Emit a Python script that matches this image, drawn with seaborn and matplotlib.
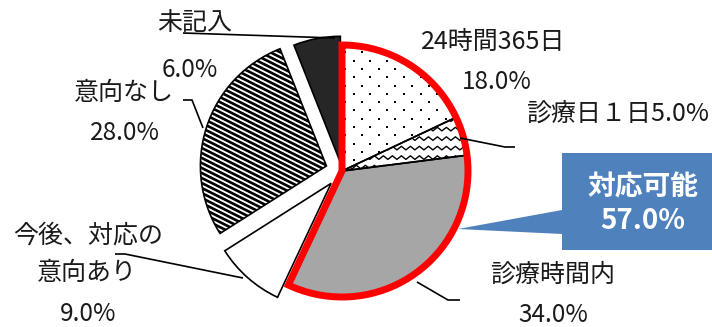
import numpy as np
import matplotlib
matplotlib.use("Agg")
import matplotlib.pyplot as plt
from matplotlib.patches import Wedge, Polygon
from matplotlib.collections import LineCollection
import seaborn as sns

# ---- data -------------------------------------------------------------
categories = ["24時間365日", "診療日１日", "診療時間内",
              "今後、対応の\n意向あり", "意向なし", "未記入"]
shares = [18.0, 5.0, 34.0, 9.0, 28.0, 6.0]
available = ["24時間365日", "診療日１日", "診療時間内"]
available_label = "対応可能"

# ---- style ------------------------------------------------------------
sns.set_theme(style="white")
plt.rcParams["font.family"] = ["Noto Sans CJK JP", "DejaVu Sans"]
TEXT = "#1a1a1a"

W, H, DPI = 712, 327, 100
CX, CY, R = 342, 171, 126          # pie centre / radius in pixels

fig = plt.figure(figsize=(W / DPI, H / DPI), dpi=DPI)
ax = fig.add_axes([0, 0, 1, 1])


def P(x, y):
    """pixel position -> data position (pie radius = 1)"""
    return ((x - CX) / R, (CY - y) / R)


faces = ["white", "white", "#a6a6a6", "white", "white", "#262626"]
explode = [0, 0, 0, 0.13, 0.13, 0.07]
wedges, _ = ax.pie(shares, startangle=90, counterclock=False, colors=faces,
                   explode=explode, radius=1,
                   wedgeprops=dict(linewidth=0, zorder=1))

ax.set_xlim(-CX / R, (W - CX) / R)
ax.set_ylim(-(H - CY) / R, CY / R)
ax.set_aspect("equal")
ax.axis("off")


# ---- fill patterns clipped to their wedges ----------------------------
def dot_pattern(w):
    cx, cy = w.center
    sx, sy = 16.7 / R, 8.3 / R
    xs, ys = [], []
    for i, y in enumerate(np.arange(cy - 1.1, cy + 1.1, sy)):
        off = (sx / 2) * (i % 2)
        for x in np.arange(cx - 1.1 + off, cx + 1.1, sx):
            xs.append(x)
            ys.append(y)
    sc = ax.scatter(xs, ys, s=2.2, c="black", marker="s", linewidths=0, zorder=2)
    sc.set_clip_path(w)


def zigzag_pattern(w):
    cx, cy = w.center
    half, amp, gap = 4.5 / R, 1.8 / R, 9.5 / R
    xs = np.arange(cx - 1.1, cx + 1.1, half)
    sign = np.where(np.arange(len(xs)) % 2 == 0, 1.0, -1.0)
    segs = [np.column_stack([xs, y0 + amp * sign])
            for y0 in np.arange(cy - 1.1, cy + 1.1, gap)]
    lc = LineCollection(segs, colors="black", linewidths=1.0, zorder=2)
    ax.add_collection(lc)
    lc.set_clip_path(w)


def stripe_pattern(w):
    cx, cy = w.center
    slope, gap = -0.5, 5.0 / R
    x = np.array([cx - 1.2, cx + 1.2])
    segs = [np.column_stack([x, cy + c + slope * (x - cx)])
            for c in np.arange(-1.9, 1.9, gap)]
    lc = LineCollection(segs, colors="black", linewidths=1.9, zorder=2)
    ax.add_collection(lc)
    lc.set_clip_path(w)


dot_pattern(wedges[0])
zigzag_pattern(wedges[1])
stripe_pattern(wedges[4])

# wedge outlines on top of the patterns
for w in wedges:
    ax.add_patch(Wedge(w.center, w.r, w.theta1, w.theta2, fill=False,
                       ec="black", lw=1.2, zorder=3))

# red outline around the "available" group
grp = [wedges[categories.index(c)] for c in available]
t1 = min(w.theta1 for w in grp)
t2 = max(w.theta2 for w in grp)
ax.add_patch(Wedge(grp[0].center, 1, t1, t2, fill=False, ec="#ff0000",
                   lw=5, zorder=4))

# ---- labels -----------------------------------------------------------
pct = [f"{v:.1f}%" for v in shares]
fs = 18


def label(x, y, s, size=fs, **kw):
    ax.text(*P(x, y), s, ha="center", va="center", fontsize=size,
            color=TEXT, zorder=6, **kw)


def leader(*pts):
    xs, ys = zip(*[P(x, y) for x, y in pts])
    ax.plot(xs, ys, color="black", lw=1.2, zorder=5, solid_capstyle="butt")


label(493, 42, categories[0])
label(497, 82, pct[0], size=17.5)

label(618, 115, categories[1] + pct[1])
leader((460, 138), (505, 147), (515, 147))

label(553, 275, categories[2])
label(553, 315, pct[2], size=17.5)
leader((417, 282), (448, 300), (460, 300))

name3 = categories[3].split("\n")
label(88, 236, name3[0])
label(87, 273, name3[1])
label(88, 314, pct[3], size=17.5)
leader((115, 254), (125, 254), (243, 278))

label(124, 93, categories[4])
label(125, 133, pct[4], size=17.5)
leader((183, 100), (192, 100), (203, 128))

label(195, 23, categories[5])
label(190, 70, pct[5], size=17.5)
leader((183, 33), (335, 38))

# ---- callout for the group total ---------------------------------------
box = [(562, 153), (712, 153), (712, 250), (562, 250),
       (562, 234), (458, 229), (562, 210)]
ax.add_patch(Polygon([P(x, y) for x, y in box], closed=True,
                     fc="#4f81bd", ec="none", zorder=5))
total = sum(shares[categories.index(c)] for c in available)
ax.text(*P(643, 204), f"{available_label}\n{total:.1f}%", ha="center",
        va="center", fontsize=20, fontweight="bold", color="white",
        linespacing=1.25, zorder=6)

fig.savefig("out.png", dpi=DPI)
